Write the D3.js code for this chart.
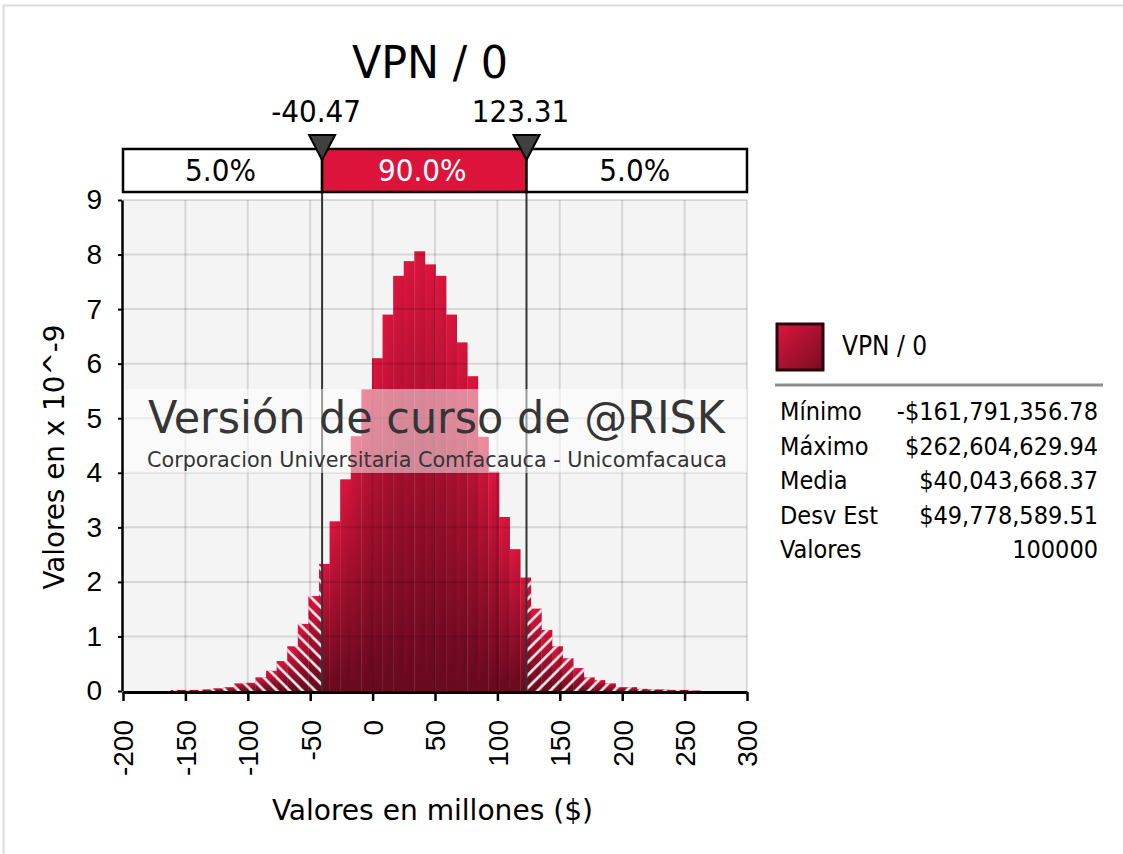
<!DOCTYPE html>
<html lang="es">
<head>
<meta charset="UTF-8">
<title>VPN / 0</title>
<script src="https://cdn.jsdelivr.net/npm/d3@7"></script>
<style>
  body { margin: 0; background: #fff; }
  svg { font-family: "DejaVu Sans Condensed", "DejaVu Sans", sans-serif; }
</style>
</head>
<body>
<svg width="1123" height="854"></svg>
<script>
const valMin = -161.79135678   // millones
const valMax = 262.60462994
// densidad de cada clase (x 10^-9), 50 clases entre el minimo y el maximo
const densidad = [
  0.02, 0.02, 0.02, 0.03, 0.05, 0.07, 0.14, 0.15, 0.25, 0.37,
  0.55, 0.82, 1.23, 1.74, 2.33, 3.11, 3.88, 4.67, 5.53, 6.10,
  6.90, 7.61, 7.88, 8.06, 7.82, 7.61, 6.90, 6.39, 5.77, 4.66,
  4.02, 3.19, 2.60, 2.08, 1.51, 1.12, 0.82, 0.60, 0.42, 0.25,
  0.20, 0.14, 0.07, 0.07, 0.04, 0.03, 0.03, 0.02, 0.02, 0.01
]
const xTicks = [-200, -150, -100, -50, 0, 50, 100, 150, 200, 250, 300]
const yTicks = [0, 1, 2, 3, 4, 5, 6, 7, 8, 9]
const limites = [-40.47, 123.31]
const etiquetasLimites = ['-40.47', '123.31']
const porcentajes = ['5.0%', '90.0%', '5.0%']
const nombresEst = ['Mínimo', 'Máximo', 'Media', 'Desv Est', 'Valores']
const valoresEst = ['-$161,791,356.78', '$262,604,629.94', '$40,043,668.37', '$49,778,589.51', '100000']

const svg = d3.select('svg')
const x = d3.scaleLinear().domain([-200, 300]).range([123, 747])
const y = d3.scaleLinear().domain([0, 9]).range([691, 200])

// borde de la ventana
svg.append('rect').attr('x', 3.5).attr('y', 5.5).attr('width', 1130).attr('height', 860)
  .attr('fill', 'none').attr('stroke', '#dcdcdc').attr('stroke-width', 2)

const defs = svg.append('defs')
const g1 = defs.append('linearGradient').attr('id', 'barra')
  .attr('x1', 0).attr('y1', 0).attr('x2', 0.15).attr('y2', 1)
g1.append('stop').attr('offset', 0).attr('stop-color', '#e0163f')
g1.append('stop').attr('offset', 1).attr('stop-color', '#6a0a1f')
const g2 = defs.append('linearGradient').attr('id', 'leyenda')
  .attr('x1', 0).attr('y1', 0).attr('x2', 1).attr('y2', 1)
g2.append('stop').attr('offset', 0).attr('stop-color', '#dc1640')
g2.append('stop').attr('offset', 1).attr('stop-color', '#7a0c22')

// rayado blanco de las colas
function rayado(id, ang) {
  const p = defs.append('pattern').attr('id', id)
    .attr('patternUnits', 'userSpaceOnUse').attr('width', 9).attr('height', 9)
    .attr('patternTransform', 'rotate(' + ang + ')')
  p.append('line').attr('x1', 4.5).attr('y1', 0).attr('x2', 4.5).attr('y2', 9)
    .attr('stroke', '#fff').attr('stroke-width', 2.4)
}
rayado('rayaIzq', -45)
rayado('rayaDer', 45)

defs.append('clipPath').attr('id', 'colaIzq').append('rect')
  .attr('x', x(-200)).attr('y', 190).attr('width', x(limites[0]) - x(-200)).attr('height', 510)
defs.append('clipPath').attr('id', 'colaDer').append('rect')
  .attr('x', x(limites[1])).attr('y', 190).attr('width', x(300) - x(limites[1])).attr('height', 510)

// fondo del area de trazado
svg.append('rect').attr('x', x(-200)).attr('y', y(9))
  .attr('width', x(300) - x(-200)).attr('height', y(0) - y(9)).attr('fill', '#f4f4f4')

const ancho = (valMax - valMin) / densidad.length
const clases = densidad.map((d, i) => ({ x0: valMin + i * ancho, x1: valMin + (i + 1) * ancho, v: d }))

function barras(sel, fill) {
  sel.selectAll('rect').data(clases).enter().append('rect')
    .attr('x', d => x(d.x0))
    .attr('width', d => x(d.x1) - x(d.x0) + 0.3)
    .attr('y', d => y(d.v))
    .attr('height', d => y(0) - y(d.v))
    .attr('fill', fill)
}
barras(svg.append('g'), 'url(#barra)')
barras(svg.append('g').attr('clip-path', 'url(#colaIzq)'), 'url(#rayaIzq)')
barras(svg.append('g').attr('clip-path', 'url(#colaDer)'), 'url(#rayaDer)')

// rejilla
const rejilla = svg.append('g').attr('stroke', 'rgba(0,0,0,0.12)').attr('stroke-width', 2)
rejilla.selectAll('.gx').data(xTicks.slice(1)).enter().append('line')
  .attr('x1', d => x(d)).attr('x2', d => x(d)).attr('y1', y(9)).attr('y2', y(0))
rejilla.selectAll('.gy').data(yTicks.slice(1)).enter().append('line')
  .attr('x1', x(-200)).attr('x2', x(300)).attr('y1', d => y(d)).attr('y2', d => y(d))

// lineas de los limites
svg.selectAll('.lim').data(limites).enter().append('line')
  .attr('x1', d => x(d)).attr('x2', d => x(d)).attr('y1', 192).attr('y2', y(0))
  .attr('stroke', '#333').attr('stroke-width', 2)

// marca de agua
svg.append('rect').attr('x', x(-200)).attr('y', 389).attr('width', x(300) - x(-200)).attr('height', 84)
  .attr('fill', '#fff').attr('opacity', 0.5)
svg.append('text').attr('x', 436.5).attr('y', 433).attr('text-anchor', 'middle')
  .attr('font-size', 45).attr('fill', '#353535')
  .attr('textLength', 577).attr('lengthAdjust', 'spacingAndGlyphs')
  .text('Versión de curso de @RISK')
svg.append('text').attr('x', 437).attr('y', 467).attr('text-anchor', 'middle')
  .attr('font-size', 22).attr('fill', '#353535')
  .attr('textLength', 580).attr('lengthAdjust', 'spacingAndGlyphs')
  .text('Corporacion Universitaria Comfacauca - Unicomfacauca')

// ejes
const ejeX = svg.append('g').attr('transform', 'translate(0,' + (y(0) + 1) + ')')
  .call(d3.axisBottom(x).tickValues(xTicks).tickSize(9).tickSizeOuter(0).tickFormat(d => String(d)))
ejeX.select('.domain').attr('stroke', '#000').attr('stroke-width', 3)
ejeX.selectAll('.tick line').attr('stroke', '#000').attr('stroke-width', 2.5)
ejeX.selectAll('.tick text')
  .attr('font-size', 28).attr('fill', '#000').attr('font-family', null)
  .attr('transform', 'rotate(-90)').attr('text-anchor', 'end')
  .attr('x', -28).attr('y', 0).attr('dy', '0.35em')

const ejeY = svg.append('g').attr('transform', 'translate(' + (x(-200) - 1) + ',0)')
  .call(d3.axisLeft(y).tickValues(yTicks).tickSize(4).tickSizeOuter(0))
ejeY.select('.domain').attr('stroke', '#000').attr('stroke-width', 2.5)
ejeY.selectAll('.tick line').attr('stroke', '#000').attr('stroke-width', 2)
ejeY.selectAll('.tick text').attr('font-size', 28).attr('fill', '#000')
  .attr('font-family', null).attr('x', -20)

svg.append('text').attr('x', 432.5).attr('y', 820).attr('text-anchor', 'middle')
  .attr('font-size', 29).attr('textLength', 321).attr('lengthAdjust', 'spacingAndGlyphs')
  .text('Valores en millones ($)')
svg.append('text').attr('transform', 'translate(64,457) rotate(-90)').attr('text-anchor', 'middle')
  .attr('font-size', 29).attr('textLength', 265).attr('lengthAdjust', 'spacingAndGlyphs')
  .text('Valores en x 10^-9')

// titulo
svg.append('text').attr('x', 430).attr('y', 78).attr('text-anchor', 'middle')
  .attr('font-size', 45).attr('textLength', 156).attr('lengthAdjust', 'spacingAndGlyphs')
  .text('VPN / 0')

// barra de percentiles
const tramos = [-200, limites[0], limites[1], 300]
const barra = svg.append('g')
barra.selectAll('rect').data(porcentajes).enter().append('rect')
  .attr('x', (d, i) => x(tramos[i])).attr('y', 149)
  .attr('width', (d, i) => x(tramos[i + 1]) - x(tramos[i])).attr('height', 43)
  .attr('fill', (d, i) => i === 1 ? '#dc143c' : '#fff')
  .attr('stroke', '#000').attr('stroke-width', 2.5)
barra.selectAll('text').data(porcentajes).enter().append('text')
  .attr('x', (d, i) => (x(tramos[i]) + x(tramos[i + 1])) / 2 - 2).attr('y', 181)
  .attr('text-anchor', 'middle').attr('font-size', 31)
  .attr('fill', (d, i) => i === 1 ? '#fff' : '#000')
  .text(d => d)

svg.selectAll('.tri').data(limites).enter().append('path')
  .attr('d', d => 'M' + (x(d) - 13) + ',135 L' + (x(d) + 13) + ',135 L' + x(d) + ',160 Z')
  .attr('fill', '#404040').attr('stroke', '#000').attr('stroke-width', 2)
svg.selectAll('.etq').data(limites).enter().append('text')
  .attr('x', d => x(d) - 6).attr('y', 122).attr('text-anchor', 'middle')
  .attr('font-size', 31).text((d, i) => etiquetasLimites[i])

// leyenda y estadisticas
svg.append('rect').attr('x', 777).attr('y', 324).attr('width', 46).attr('height', 46)
  .attr('fill', 'url(#leyenda)').attr('stroke', '#2a060c').attr('stroke-width', 3)
svg.append('text').attr('x', 842).attr('y', 355).attr('font-size', 26).text('VPN / 0')
svg.append('line').attr('x1', 775).attr('x2', 1103).attr('y1', 385).attr('y2', 385)
  .attr('stroke', '#8c8c8c').attr('stroke-width', 3)
const est = svg.append('g').attr('font-size', 25)
est.selectAll('.n').data(nombresEst).enter().append('text')
  .attr('x', 780).attr('y', (d, i) => 420 + i * 34.6).text(d => d)
est.selectAll('.v').data(valoresEst).enter().append('text')
  .attr('x', 1098).attr('y', (d, i) => 420 + i * 34.6).attr('text-anchor', 'end').text(d => d)
</script>
</body>
</html>
